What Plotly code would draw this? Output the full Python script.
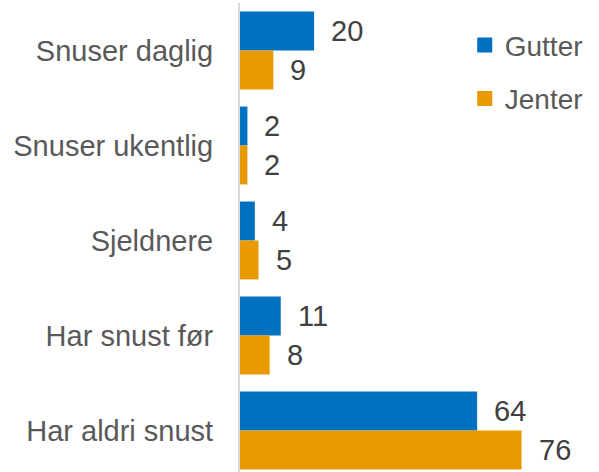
import plotly.graph_objects as go

categories = ["Snuser daglig", "Snuser ukentlig", "Sjeldnere", "Har snust før", "Har aldri snust"]
gutter = [20, 2, 4, 11, 64]
jenter = [9, 2, 5, 8, 76]

BLUE = "#0070C0"
ORANGE = "#E89A00"
FONT = "Liberation Sans, Arial, sans-serif"

fig = go.Figure()
fig.add_trace(go.Bar(y=categories, x=gutter, name="Gutter", orientation="h",
                     marker=dict(color=BLUE, line=dict(width=0)), showlegend=False))
fig.add_trace(go.Bar(y=categories, x=jenter, name="Jenter", orientation="h",
                     marker=dict(color=ORANGE, line=dict(width=0)), showlegend=False))

# legend entries with square swatches
for name, color, grp in (("Gutter", BLUE, "g"), ("Jenter", ORANGE, "j")):
    fig.add_trace(go.Scatter(x=[None], y=[None], mode="markers", name=name,
                             legendgroup=grp,
                             marker=dict(symbol="square", size=15, color=color)))

# value labels to the right of each bar
annotations = []
for i, c in enumerate(categories):
    for val, off in ((gutter[i], -0.205), (jenter[i], 0.205)):
        annotations.append(dict(x=val, y=i + off, xref="x", yref="y", text=str(val),
                                showarrow=False, xanchor="left", yanchor="middle",
                                xshift=15, font=dict(size=29, color="#404040", family=FONT)))

fig.update_layout(
    width=599, height=472,
    margin=dict(l=240, r=0, t=3, b=0),
    paper_bgcolor="white", plot_bgcolor="white",
    barmode="group", bargap=0.18, bargroupgap=0,
    font=dict(family=FONT, size=29, color="#595959"),
    showlegend=True,
    legend=dict(x=0.626, y=0.963, xanchor="left", yanchor="top",
                font=dict(size=28, color="#595959"), traceorder="grouped",
                tracegroupgap=14, bgcolor="rgba(0,0,0,0)", itemwidth=30),
    annotations=annotations,
)
fig.update_xaxes(range=[0, 96.9], visible=False, showgrid=False, zeroline=False)
fig.update_yaxes(type="category", categoryorder="array", categoryarray=categories,
                 range=[4.437, -0.5], showline=True, linecolor="#D9D9D9", linewidth=2,
                 showgrid=False, ticks="", ticklabelstandoff=19,
                 tickfont=dict(size=29, color="#595959", family=FONT))

fig.write_html("out.html")
